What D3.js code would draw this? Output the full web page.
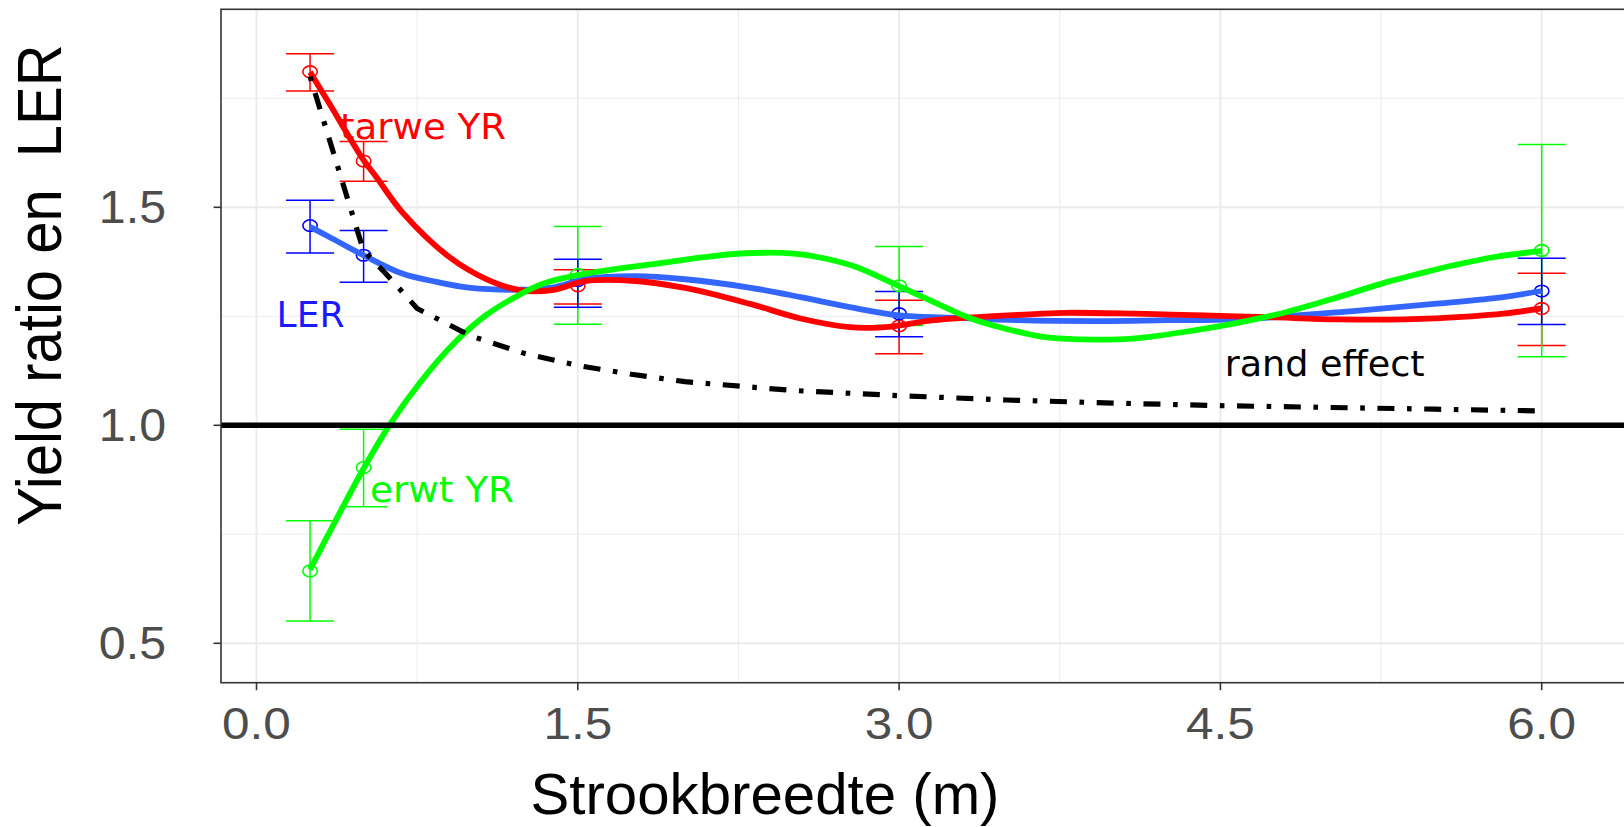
<!DOCTYPE html>
<html>
<head>
<meta charset="utf-8">
<script src="https://cdn.jsdelivr.net/npm/d3@7"></script>
<style>
  html, body { margin: 0; padding: 0; background: #ffffff; }
  svg { display: block; }
</style>
</head>
<body>
<svg id="chart" width="1624" height="827"></svg>
<script>
// ---------------- data ----------------
const xTicks = [0.0, 1.5, 3.0, 4.5, 6.0];
const xTickLabels = ["0.0", "1.5", "3.0", "4.5", "6.0"];
const xMinor = [0.75, 2.25, 3.75, 5.25];
const yTicks = [0.5, 1.0, 1.5];
const yTickLabels = ["0.5", "1.0", "1.5"];
const yMinor = [0.75, 1.25, 1.75];

// strip widths (m) where measurements were taken
const stripWidths = [0.25, 0.5, 1.5, 3.0, 6.0];

// tarwe (wheat) yield ratio: mean and error bar limits
const tarweMean = [1.811, 1.606, 1.320, 1.228, 1.268];
const tarweLow  = [1.767, 1.560, 1.278, 1.164, 1.183];
const tarweHigh = [1.852, 1.651, 1.357, 1.287, 1.349];

// LER
const lerMean = [1.458, 1.390, 1.332, 1.256, 1.308];
const lerLow  = [1.395, 1.328, 1.271, 1.203, 1.231];
const lerHigh = [1.516, 1.447, 1.381, 1.307, 1.383];

// erwt (pea) yield ratio
const erwtMean = [0.666, 0.903, 1.346, 1.320, 1.401];
const erwtLow  = [0.551, 0.813, 1.232, 1.229, 1.157];
const erwtHigh = [0.781, 0.991, 1.456, 1.410, 1.644];

// smoothed curves
const tarweSmoothX = [0.25, 0.34, 0.5, 0.56, 0.68, 0.9, 1.07, 1.23, 1.38, 1.54, 1.77, 2.0, 2.3, 2.54, 2.77, 2.9, 3.0, 3.16, 3.32, 3.63, 3.78, 4.1, 4.27, 4.5, 4.73, 5.05, 5.36, 5.67, 5.82, 6.0];
const tarweSmoothY = [1.810, 1.738, 1.608, 1.569, 1.489, 1.386, 1.336, 1.310, 1.310, 1.331, 1.331, 1.315, 1.279, 1.245, 1.225, 1.224, 1.229, 1.241, 1.247, 1.255, 1.258, 1.256, 1.254, 1.251, 1.248, 1.243, 1.243, 1.250, 1.256, 1.268];

const lerSmoothX = [0.25, 0.34, 0.5, 0.68, 0.84, 0.99, 1.23, 1.38, 1.54, 1.77, 2.0, 2.3, 2.54, 2.77, 3.0, 3.24, 3.55, 3.94, 4.25, 4.58, 5.12, 5.51, 5.82, 6.0];
const lerSmoothY = [1.455, 1.432, 1.390, 1.348, 1.329, 1.316, 1.311, 1.316, 1.336, 1.342, 1.335, 1.316, 1.294, 1.271, 1.252, 1.247, 1.241, 1.239, 1.241, 1.243, 1.262, 1.279, 1.294, 1.308];

const erwtSmoothX = [0.25, 0.37, 0.5, 0.62, 0.76, 0.92, 1.07, 1.2, 1.34, 1.54, 1.93, 2.08, 2.26, 2.51, 2.66, 2.8, 3.0, 3.16, 3.32, 3.47, 3.67, 3.86, 4.02, 4.17, 4.33, 4.58, 4.81, 5.05, 5.28, 5.43, 5.59, 5.78, 6.0];
const erwtSmoothY = [0.669, 0.782, 0.901, 1.000, 1.096, 1.187, 1.252, 1.292, 1.325, 1.348, 1.375, 1.385, 1.394, 1.394, 1.382, 1.363, 1.319, 1.283, 1.248, 1.225, 1.203, 1.197, 1.197, 1.203, 1.214, 1.235, 1.260, 1.294, 1.329, 1.348, 1.367, 1.386, 1.400];

// border ("rand") effect curve
const randX = [0.25, 0.5, 0.6, 0.75, 1.0, 1.25, 1.5, 1.75, 2.0, 2.5, 3.0, 3.5, 4.0, 4.5, 5.0, 5.5, 6.0];
const randY = [1.80, 1.40, 1.35, 1.268, 1.205, 1.165, 1.137, 1.117, 1.10, 1.08, 1.068, 1.058, 1.051, 1.045, 1.041, 1.037, 1.033];

const referenceLine = [1.0];

// labels
const labels = [
  {text: "tarwe YR", x: 0.39, y: 1.656, color: "#FF0000", len: 166},
  {text: "LER", x: 0.094, y: 1.225, color: "#1A1AFF", len: 68},
  {text: "erwt YR", x: 0.53, y: 0.825, color: "#00FF00", len: 144},
  {text: "rand effect", x: 4.52, y: 1.113, color: "#000000", len: 200}
];

// ---------------- layout ----------------
const W = 1624, H = 827;
const panel = {left: 221, top: 9.3, right: 1640, bottom: 682.7};

const x = d3.scaleLinear().domain([0, 6]).range([256.5, 1541.7]);
const y = d3.scaleLinear().domain([0.5, 1.5]).range([643.3, 207.3]);

const svg = d3.select("#chart");
svg.append("rect").attr("width", W).attr("height", H).attr("fill", "#ffffff");

svg.append("defs").append("clipPath").attr("id", "clip")
  .append("rect")
  .attr("x", panel.left).attr("y", panel.top)
  .attr("width", panel.right - panel.left).attr("height", panel.bottom - panel.top);

const g = svg.append("g").attr("clip-path", "url(#clip)");

// grid
g.selectAll(".xminor").data(xMinor).join("line")
  .attr("x1", d => x(d)).attr("x2", d => x(d))
  .attr("y1", panel.top).attr("y2", panel.bottom)
  .attr("stroke", "#EBEBEB").attr("stroke-width", 1.1);
g.selectAll(".yminor").data(yMinor).join("line")
  .attr("y1", d => y(d)).attr("y2", d => y(d))
  .attr("x1", panel.left).attr("x2", panel.right)
  .attr("stroke", "#EBEBEB").attr("stroke-width", 1.1);
g.selectAll(".xmajor").data(xTicks).join("line")
  .attr("x1", d => x(d)).attr("x2", d => x(d))
  .attr("y1", panel.top).attr("y2", panel.bottom)
  .attr("stroke", "#EBEBEB").attr("stroke-width", 2);
g.selectAll(".ymajor").data(yTicks).join("line")
  .attr("y1", d => y(d)).attr("y2", d => y(d))
  .attr("x1", panel.left).attr("x2", panel.right)
  .attr("stroke", "#EBEBEB").attr("stroke-width", 2);

// error bars + points
function errorSeries(mean, low, high, color) {
  const rows = stripWidths.map((s, i) => ({s, m: mean[i], lo: low[i], hi: high[i]}));
  const grp = g.append("g");
  const capHalf = 24;
  grp.selectAll(".v").data(rows).join("line")
    .attr("x1", d => x(d.s)).attr("x2", d => x(d.s))
    .attr("y1", d => y(d.lo)).attr("y2", d => y(d.hi))
    .attr("stroke", color).attr("stroke-width", 1.5);
  grp.selectAll(".ct").data(rows).join("line")
    .attr("x1", d => x(d.s) - capHalf).attr("x2", d => x(d.s) + capHalf)
    .attr("y1", d => y(d.hi)).attr("y2", d => y(d.hi))
    .attr("stroke", color).attr("stroke-width", 1.5);
  grp.selectAll(".cb").data(rows).join("line")
    .attr("x1", d => x(d.s) - capHalf).attr("x2", d => x(d.s) + capHalf)
    .attr("y1", d => y(d.lo)).attr("y2", d => y(d.lo))
    .attr("stroke", color).attr("stroke-width", 1.5);
  return rows;
}
const tRows = errorSeries(tarweMean, tarweLow, tarweHigh, "#FF0000");
const eRows = errorSeries(erwtMean, erwtLow, erwtHigh, "#00FF00");
const lRows = errorSeries(lerMean, lerLow, lerHigh, "#0000FF");

function points(rows, color) {
  g.append("g").selectAll("ellipse").data(rows).join("ellipse")
    .attr("cx", d => x(d.s)).attr("cy", d => y(d.m))
    .attr("rx", 7.2).attr("ry", 5.8)
    .attr("fill", "none").attr("stroke", color).attr("stroke-width", 1.6);
}
points(tRows, "#FF0000");
points(eRows, "#00FF00");
points(lRows, "#0000FF");

// smooth lines
const smoothLine = d3.line().x(d => x(d[0])).y(d => y(d[1])).curve(d3.curveCatmullRom.alpha(0.5));
function smooth(xs, ys, color) {
  g.append("path").datum(xs.map((v, i) => [v, ys[i]]))
    .attr("d", smoothLine)
    .attr("fill", "none").attr("stroke", color).attr("stroke-width", 5.8)
    .attr("stroke-linejoin", "round").attr("stroke-linecap", "butt");
}
smooth(lerSmoothX, lerSmoothY, "#3366FF");
smooth(tarweSmoothX, tarweSmoothY, "#FF0000");
smooth(erwtSmoothX, erwtSmoothY, "#00FF00");

// reference line
g.selectAll(".ref").data(referenceLine).join("line")
  .attr("x1", panel.left).attr("x2", panel.right)
  .attr("y1", d => y(d)).attr("y2", d => y(d))
  .attr("stroke", "#000000").attr("stroke-width", 5.5);

// rand effect dot-dash curve
const linLine = d3.line().x(d => x(d[0])).y(d => y(d[1]));
g.append("path").datum(randX.map((v, i) => [v, randY[i]]))
  .attr("d", linLine)
  .attr("fill", "none").attr("stroke", "#000000").attr("stroke-width", 5.2)
  .attr("stroke-dasharray", "4.6 12.6 17 12.6")
  .attr("stroke-linecap", "butt");

// annotation labels
svg.append("g").selectAll("text").data(labels).join("text")
  .attr("x", d => x(d.x)).attr("y", d => y(d.y))
  .attr("fill", d => d.color)
  .attr("font-family", "'DejaVu Sans', Verdana, sans-serif")
  .attr("font-size", 35)
  .attr("textLength", d => d.len)
  .attr("lengthAdjust", "spacingAndGlyphs")
  .text(d => d.text);

// panel border
svg.append("rect")
  .attr("x", panel.left).attr("y", panel.top)
  .attr("width", panel.right - panel.left).attr("height", panel.bottom - panel.top)
  .attr("fill", "none").attr("stroke", "#333333").attr("stroke-width", 1.6);

// axes ticks
svg.append("g").selectAll("line").data(yTicks).join("line")
  .attr("x1", panel.left - 7.5).attr("x2", panel.left)
  .attr("y1", d => y(d)).attr("y2", d => y(d))
  .attr("stroke", "#333333").attr("stroke-width", 1.6);
svg.append("g").selectAll("line").data(xTicks).join("line")
  .attr("x1", d => x(d)).attr("x2", d => x(d))
  .attr("y1", panel.bottom).attr("y2", panel.bottom + 7.5)
  .attr("stroke", "#333333").attr("stroke-width", 1.6);

// tick labels (horizontally stretched like the reference)
svg.append("g").selectAll("text").data(yTicks).join("text")
  .attr("transform", d => `translate(166,${y(d)}) scale(1.05,1)`)
  .attr("text-anchor", "end").attr("dominant-baseline", "central")
  .attr("font-family", "'Liberation Sans', Arial, sans-serif")
  .attr("font-size", 46).attr("fill", "#4D4D4D")
  .text((d, i) => yTickLabels[i]);
svg.append("g").selectAll("text").data(xTicks).join("text")
  .attr("transform", d => `translate(${x(d)},738.5) scale(1.1,1)`)
  .attr("text-anchor", "middle")
  .attr("font-family", "'Liberation Sans', Arial, sans-serif")
  .attr("font-size", 45).attr("fill", "#4D4D4D")
  .text((d, i) => xTickLabels[i]);

// axis titles
svg.append("text")
  .attr("x", 765).attr("y", 813.5)
  .attr("text-anchor", "middle")
  .attr("font-family", "'Liberation Sans', Arial, sans-serif")
  .attr("font-size", 58).attr("fill", "#000000")
  .attr("textLength", 469).attr("lengthAdjust", "spacingAndGlyphs")
  .text("Strookbreedte (m)");
svg.append("text")
  .attr("transform", "translate(61,285) scale(1.1,1) rotate(-90)")
  .attr("text-anchor", "middle")
  .attr("xml:space", "preserve")
  .style("white-space", "pre")
  .attr("font-family", "'Liberation Sans', Arial, sans-serif")
  .attr("font-size", 58).attr("fill", "#000000")
  .text("Yield ratio en  LER");
</script>
</body>
</html>
